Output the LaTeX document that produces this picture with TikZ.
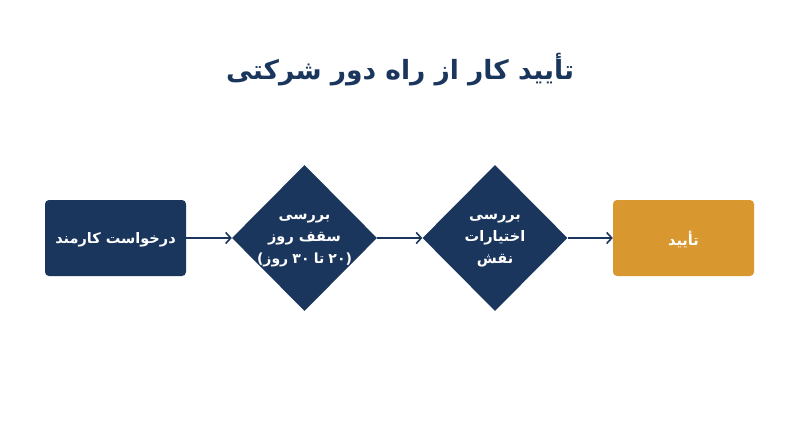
\documentclass[tikz,border=0pt]{standalone}
\usepackage{fontspec}
\usetikzlibrary{shapes.geometric,arrows.meta}
\TeXXeTstate=1
\newfontfamily\arabicfont[Script=Arabic]{DejaVu Sans}
\definecolor{navy}{HTML}{1B365D}
\definecolor{gold}{HTML}{D99730}
\tikzset{
  boxnode/.style={rectangle, rounded corners=4pt, fill=navy, minimum width=141pt, minimum height=76pt, inner sep=0pt, text=white, font=\arabicfont\bfseries\fontsize{14.5}{22}\selectfont, align=center},
  decnode/.style={diamond, fill=navy, minimum width=145pt, minimum height=146pt, inner sep=0pt},
  dectext/.style={text=white, font=\arabicfont\bfseries\fontsize{14.5}{22}\selectfont, align=center, inner sep=0pt, yshift=-3pt},
  flow/.style={draw=navy, line width=1.6pt, -{Straight Barb[length=5pt,width=11pt,line width=1.6pt]}},
}
\begin{document}
\begin{tikzpicture}[x=1pt,y=-1pt]
\useasboundingbox[fill=white] (0,0) rectangle (800,447);
\node[text=navy, font=\arabicfont\bfseries\fontsize{26.5}{32}\selectfont] (title) at (400,70) {\beginR تأیید کار از راه دور شرکتی\endR};
\node[boxnode, text depth=-1pt] (req) at (115.5,238) {\beginR درخواست کارمند\endR};
\node[decnode] (cap) at (304.5,238) {};
\node[dectext] (captext) at (cap.center) {\beginR بررسی\endR\\\beginR سقف روز\endR\\{\fontsize{14}{22}\selectfont\spaceskip=0.3em\relax\beginR (۲۰ تا ۳۰ روز)\endR}};
\node[decnode] (role) at (495,238) {};
\node[dectext] (roletext) at (role.center) {\beginR بررسی\endR\\\beginR اختیارات\endR\\\beginR نقش\endR};
\node[boxnode, fill=gold, text depth=-1pt] (ok) at (683.5,238) {\beginR تأیید\endR};
\draw[flow] (req) -- (cap);
\draw[flow] (cap) -- (role);
\draw[flow] (role) -- (ok);
\end{tikzpicture}
\end{document}
